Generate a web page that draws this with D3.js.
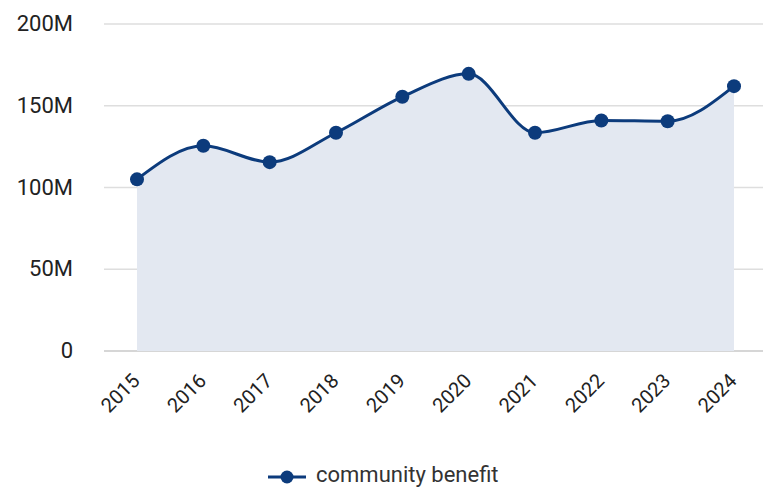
<!DOCTYPE html>
<html lang="en">
	<head>
		<meta charset="utf-8">
		<title>community benefit</title>
		<script src="https://d3js.org/d3.v7.min.js"></script>
		<style type="text/css">
			body { margin: 0; background: #fff; }
			text { font-family: Roboto, "Noto Sans", sans-serif; fill: #222; }
		</style>
	</head>
	<body>
		<script type="text/javascript">

			var years = ["2015", "2016", "2017", "2018", "2019", "2020", "2021", "2022", "2023", "2024"];
			var benefit = [105, 125.5, 115.5, 133.5, 155.5, 169.5, 133.5, 141, 140.5, 162];
			var yTicks = [0, 50, 100, 150, 200];
			var seriesName = "community benefit";

			var w = 763;
			var h = 488;

			var svg = d3.select("body")
						.append("svg")
						.attr("width", w)
						.attr("height", h);

			var x = d3.scalePoint().domain(years).range([137, 734]);
			var y = d3.scaleLinear().domain([0, 200]).range([351, 24]);

			var data = years.map(function(d, i) { return { year: d, v: benefit[i] }; });

			// gridlines
			svg.append("g")
			   .selectAll("line")
			   .data(yTicks)
			   .enter()
			   .append("line")
			   .attr("x1", 104)
			   .attr("x2", w)
			   .attr("y1", function(d) { return y(d); })
			   .attr("y2", function(d) { return y(d); })
			   .attr("stroke", function(d) { return d == 0 ? "#c8c8c8" : "#dedede"; })
			   .attr("stroke-width", 1.5);

			// y labels
			svg.append("g")
			   .selectAll("text")
			   .data(yTicks)
			   .enter()
			   .append("text")
			   .attr("x", 73)
			   .attr("y", function(d) { return y(d) + 7; })
			   .attr("text-anchor", "end")
			   .style("font-size", "22px")
			   .text(function(d) { return d == 0 ? "0" : d + "M"; });

			var curve = d3.curveMonotoneX;

			svg.append("path")
			   .datum(data)
			   .attr("d", d3.area().curve(curve)
					.x(function(d) { return x(d.year); })
					.y0(y(0))
					.y1(function(d) { return y(d.v); }))
			   .attr("fill", "#e3e8f1");

			svg.append("path")
			   .datum(data)
			   .attr("d", d3.line().curve(curve)
					.x(function(d) { return x(d.year); })
					.y(function(d) { return y(d.v); }))
			   .attr("fill", "none")
			   .attr("stroke", "#0c3b7c")
			   .attr("stroke-width", 3);

			svg.selectAll("circle.pt")
			   .data(data)
			   .enter()
			   .append("circle")
			   .attr("class", "pt")
			   .attr("cx", function(d) { return x(d.year); })
			   .attr("cy", function(d) { return y(d.v); })
			   .attr("r", 7)
			   .attr("fill", "#0c3b7c");

			// x labels, rotated
			svg.append("g")
			   .selectAll("text")
			   .data(years)
			   .enter()
			   .append("text")
			   .attr("transform", function(d) { return "translate(" + (x(d) + 4) + ",382) rotate(-45)"; })
			   .attr("text-anchor", "end")
			   .style("font-size", "20px")
			   .text(function(d) { return d; });

			// legend
			var lg = svg.append("g");
			lg.append("line")
			  .attr("x1", 268).attr("x2", 306)
			  .attr("y1", 477).attr("y2", 477)
			  .attr("stroke", "#0c3b7c").attr("stroke-width", 3);
			lg.append("circle")
			  .attr("cx", 287).attr("cy", 477).attr("r", 6.5)
			  .attr("fill", "#0c3b7c");
			lg.append("text")
			  .attr("x", 316).attr("y", 482)
			  .style("font-size", "22px")
			  .style("fill", "#333")
			  .text(seriesName);

		</script>
	</body>
</html>
